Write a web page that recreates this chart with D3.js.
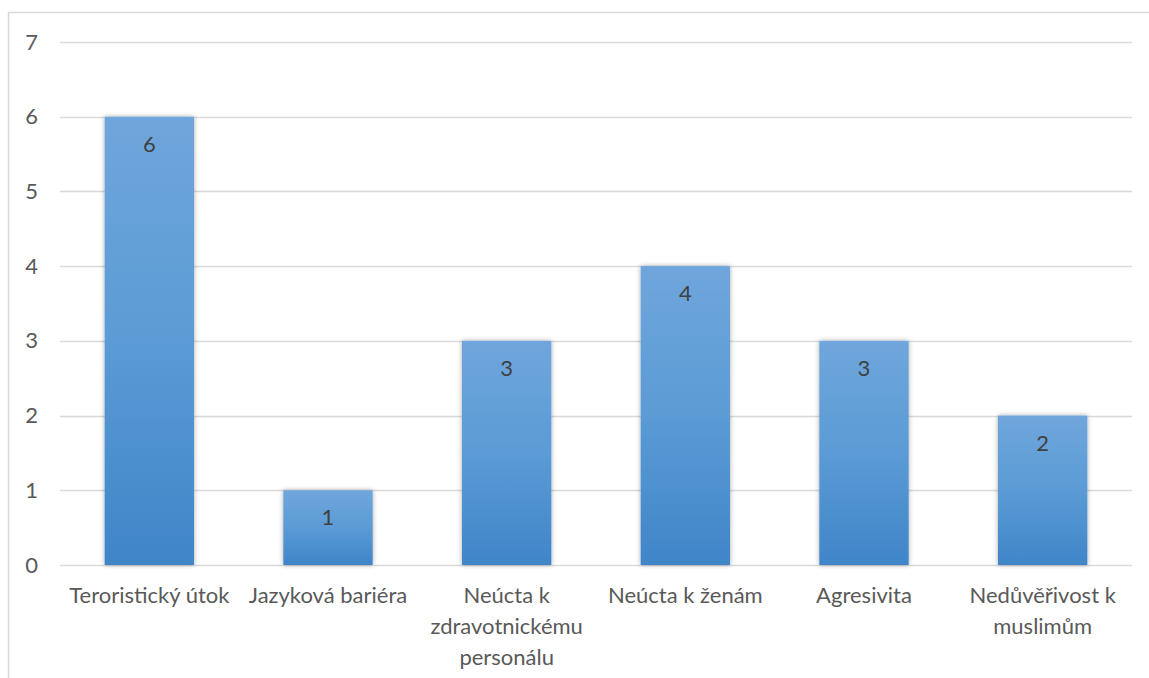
<!DOCTYPE html>
<html>
<head>
<meta charset="utf-8">
<script src="https://cdn.jsdelivr.net/npm/d3@7"></script>
<style>
  html, body { margin: 0; padding: 0; background: #fff; }
  svg { display: block; }
  text { font-family: Lato, "Open Sans", sans-serif; }
</style>
</head>
<body>
<svg id="chart" width="1149" height="678"></svg>
<script>
// Categories (each entry is a list of wrapped label lines) and counts
const categories = [
  ["Teroristický útok"],
  ["Jazyková bariéra"],
  ["Neúcta k", "zdravotnickému", "personálu"],
  ["Neúcta k ženám"],
  ["Agresivita"],
  ["Nedůvěřivost k", "muslimům"]
];
const values = [6, 1, 3, 4, 3, 2];
const yTicks = [0, 1, 2, 3, 4, 5, 6, 7];

const svg = d3.select("#chart");
const W = 1149, H = 678;
const plot = { left: 60, right: 1132, top: 42, bottom: 565 };
const FS = 22;

// Outer frame
svg.append("rect")
  .attr("x", 8.5).attr("y", 12.5)
  .attr("width", W + 10).attr("height", H + 10)
  .attr("fill", "none").attr("stroke", "#d9d9d9").attr("stroke-width", 1.5);

const defs = svg.append("defs");
const grad = defs.append("linearGradient")
  .attr("id", "barFill").attr("x1", 0).attr("y1", 0).attr("x2", 0).attr("y2", 1);
grad.append("stop").attr("offset", "0%").attr("stop-color", "#6fa6dc");
grad.append("stop").attr("offset", "50%").attr("stop-color", "#5b9bd5");
grad.append("stop").attr("offset", "100%").attr("stop-color", "#3f85c8");

const shadow = defs.append("filter").attr("id", "barShadow")
  .attr("x", "-20%").attr("y", "-10%").attr("width", "140%").attr("height", "120%");
shadow.append("feGaussianBlur").attr("in", "SourceAlpha").attr("stdDeviation", 2.5).attr("result", "blur");
shadow.append("feOffset").attr("in", "blur").attr("dx", 0).attr("dy", 0).attr("result", "off");
shadow.append("feComponentTransfer").attr("in", "off").attr("result", "soft")
  .append("feFuncA").attr("type", "linear").attr("slope", 0.35);
const merge = shadow.append("feMerge");
merge.append("feMergeNode").attr("in", "soft");
merge.append("feMergeNode").attr("in", "SourceGraphic");

const x = d3.scaleBand()
  .domain(d3.range(categories.length))
  .range([plot.left, plot.right])
  .paddingInner(0.5).paddingOuter(0.25);

const y = d3.scaleLinear().domain([0, 7]).range([plot.bottom, plot.top]);

// Gridlines
svg.append("g").selectAll("line").data(yTicks).join("line")
  .attr("x1", plot.left).attr("x2", plot.right)
  .attr("y1", d => Math.round(y(d)) + 0.5).attr("y2", d => Math.round(y(d)) + 0.5)
  .attr("stroke", "#d9d9d9").attr("stroke-width", 1.5);

// Y axis labels
const yAxis = d3.axisLeft(y).tickValues(yTicks).tickFormat(d3.format("d")).tickSize(0).tickPadding(0);
const gy = svg.append("g").attr("transform", "translate(38,0)").call(yAxis);
gy.select(".domain").remove();
gy.selectAll("text")
  .attr("fill", "#595959").attr("font-size", FS)
  .attr("font-family", "Lato, 'Open Sans', sans-serif");

// Bars
svg.append("g").selectAll("rect").data(values).join("rect")
  .attr("x", (d, i) => x(i))
  .attr("y", d => y(d))
  .attr("width", x.bandwidth())
  .attr("height", d => y(0) - y(d))
  .attr("fill", "url(#barFill)")
  .attr("filter", "url(#barShadow)");

// Value labels
svg.append("g").selectAll("text").data(values).join("text")
  .attr("x", (d, i) => x(i) + x.bandwidth() / 2)
  .attr("y", d => y(d) + 35)
  .attr("text-anchor", "middle")
  .attr("fill", "#404040").attr("font-size", FS)
  .text(d => d);

// Category labels
const xl = svg.append("g").selectAll("text").data(categories).join("text")
  .attr("x", (d, i) => x(i) + x.bandwidth() / 2)
  .attr("y", 603)
  .attr("text-anchor", "middle")
  .attr("fill", "#595959").attr("font-size", FS);
xl.selectAll("tspan").data(d => d).join("tspan")
  .attr("x", function () { return this.parentNode.getAttribute("x"); })
  .attr("dy", (d, i) => i === 0 ? 0 : 31)
  .text(d => d);
</script>
</body>
</html>
